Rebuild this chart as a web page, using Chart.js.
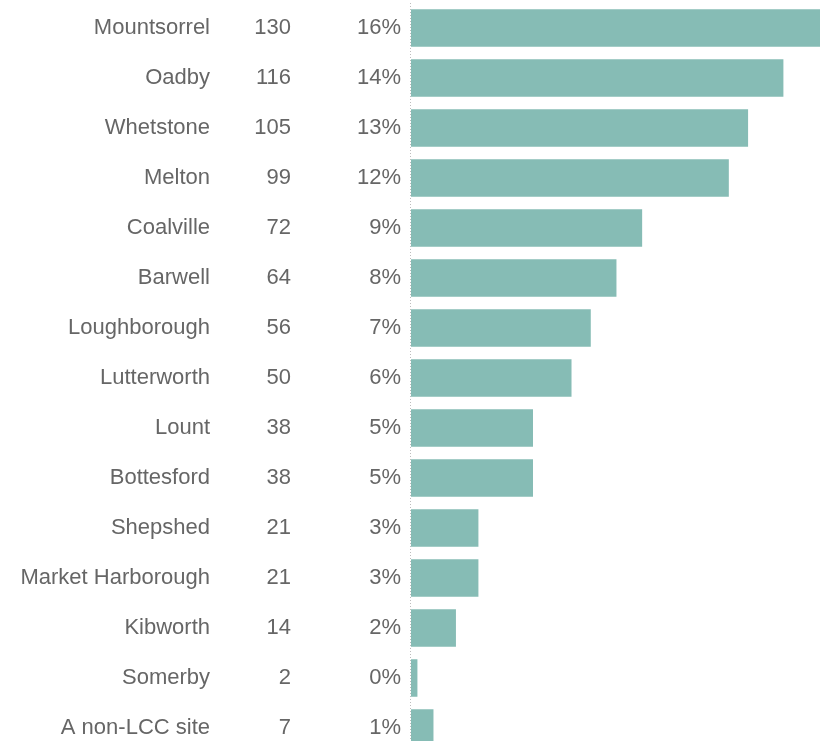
<!DOCTYPE html>
<html>
<head>
<meta charset="utf-8">
<script src="https://cdn.jsdelivr.net/npm/chart.js@4"></script>
<style>
  html, body { margin: 0; padding: 0; background: #fff; overflow: hidden; }
  #wrap { position: relative; width: 820px; height: 754px; }
</style>
</head>
<body>
<div id="wrap"><canvas id="bars"></canvas></div>
<script>
const sites = ["Mountsorrel", "Oadby", "Whetstone", "Melton", "Coalville", "Barwell",
  "Loughborough", "Lutterworth", "Lount", "Bottesford", "Shepshed", "Market Harborough",
  "Kibworth", "Somerby", "A non-LCC site"];
const counts = [130, 116, 105, 99, 72, 64, 56, 50, 38, 38, 21, 21, 14, 2, 7];
const percents = ["16%", "14%", "13%", "12%", "9%", "8%", "7%", "6%", "5%", "5%", "3%", "3%", "2%", "0%", "1%"];

const textColor = "#666666";
const textFont = "22px 'Liberation Sans', Arial, sans-serif";

// draws the three text columns and the dotted zero line
const tablePlugin = {
    id: 'table',
    afterDatasetsDraw(chart) {
        const ctx = chart.ctx;
        const y = chart.scales.y;
        const x = chart.scales.x;
        ctx.save();
        ctx.font = textFont;
        ctx.fillStyle = textColor;
        ctx.textAlign = 'right';
        ctx.textBaseline = 'middle';
        sites.forEach((name, i) => {
            const py = y.getPixelForValue(i);
            ctx.fillText(name, 210, py);
            ctx.fillText(String(counts[i]), 291, py);
            ctx.fillText(percents[i], 401, py);
        });
        const x0 = Math.round(x.getPixelForValue(0)) - 0.5;
        ctx.strokeStyle = "#bdbdbd";
        ctx.lineWidth = 1;
        ctx.setLineDash([1, 2]);
        ctx.beginPath();
        ctx.moveTo(x0, chart.chartArea.top);
        ctx.lineTo(x0, chart.chartArea.bottom);
        ctx.stroke();
        ctx.restore();
    }
};

new Chart(document.getElementById("bars"), {
    type: 'bar',
    data: {
        labels: sites,
        datasets: [{
            data: counts,
            backgroundColor: "#86bcb5",
            borderWidth: 0,
            barPercentage: 0.75,
            categoryPercentage: 1.0
        }]
    },
    options: {
        indexAxis: 'y',
        responsive: true,
        maintainAspectRatio: false,
        animation: false,
        layout: { padding: { left: 411, right: 0, top: 3, bottom: 1 } },
        scales: {
            x: { display: false, min: 0, max: 127.4 },
            y: { display: false }
        },
        plugins: {
            legend: { display: false },
            tooltip: { enabled: false }
        }
    },
    plugins: [tablePlugin]
});
</script>
</body>
</html>
